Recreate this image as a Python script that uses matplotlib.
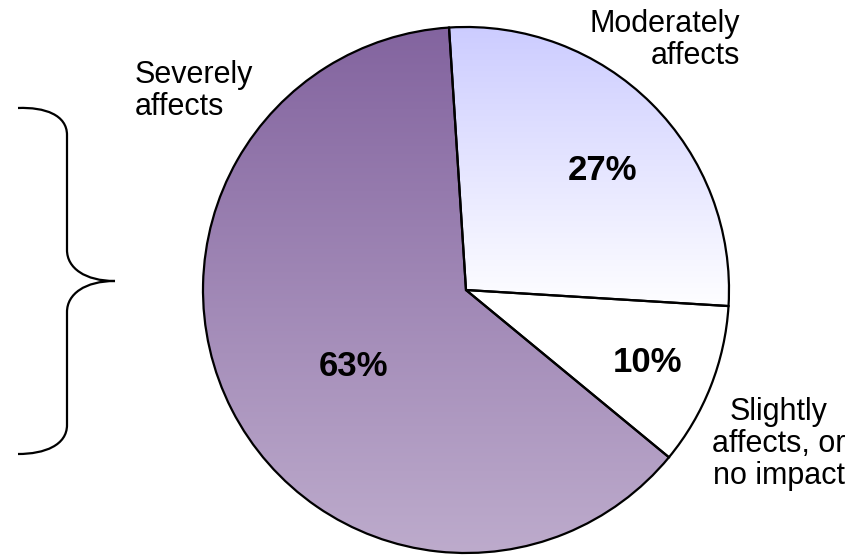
import matplotlib
matplotlib.use("Agg")
import matplotlib.pyplot as plt
import numpy as np
from matplotlib.path import Path
from matplotlib.patches import PathPatch
from matplotlib.colors import LinearSegmentedColormap

plt.rcParams['font.family'] = ['Liberation Sans', 'DejaVu Sans']

# data (clockwise from the top)
categories = ["Moderately\naffects", "Slightly\naffects, or\nno impact", "Severely\naffects"]
shares = [27, 10, 63]
pct_labels = ["27%", "10%", "63%"]

W, H = 863, 555
fig = plt.figure(figsize=(W / 100, H / 100), dpi=100)

# pie sits in a square box of 526 px
cx, cy, r = 466, 290, 263
pax = fig.add_axes([(cx - r) / W, 1 - (cy + r) / H, 2 * r / W, 2 * r / H])
wedges, _ = pax.pie(shares, startangle=93.7, counterclock=False, radius=1,
                    wedgeprops=dict(facecolor="none", edgecolor="black", linewidth=1.6),
                    frame=False)

# vertical gradients clipped to each wedge
grad = np.linspace(0, 1, 256).reshape(-1, 1)
fills = [
    (["#FFFFFF", "#CCCCFF"], (-1, 1, -0.08, 1.0)),   # moderately: lavender -> white
    (["#FFFFFF", "#FFFFFF"], (-1, 1, -1, 1)),         # slightly: white
    (["#BDABCC", "#83649F"], (-1, 1, -1, 1)),         # severely: light -> dark purple
]
for w, (cols, ext) in zip(wedges, fills):
    cmap = LinearSegmentedColormap.from_list("g", cols)
    im = pax.imshow(grad, cmap=cmap, extent=ext, origin="lower", aspect="auto", zorder=0)
    im.set_clip_path(w)
    w.set_zorder(2)
pax.set_xlim(-1, 1)
pax.set_ylim(-1, 1)
pax.axis("off")

# overlay in pixel coordinates for labels and the brace
ov = fig.add_axes([0, 0, 1, 1])
ov.set_xlim(0, W)
ov.set_ylim(H, 0)
ov.axis("off")

pct_pos = [(602, 171), (647, 363), (353, 366)]
for txt, (x, y) in zip(pct_labels, pct_pos):
    ov.text(x, y, txt, fontsize=25, fontweight="bold", ha="center", va="center")

cat_pos = [(740, 40, "right"), (779, 444, "center"), (135, 91, "left")]
for txt, (x, y, ha) in zip(categories, cat_pos):
    ov.text(x, y, txt, fontsize=22, ha=ha, va="center", multialignment=ha, linespacing=1.08)

# curly brace on the left
verts = [
    (18, 108), (45, 107), (67, 115), (67, 135),
    (67, 250),
    (67, 268), (85, 281), (115, 281),
    (85, 281), (67, 294), (67, 312),
    (67, 425),
    (67, 445), (45, 454), (18, 454),
]
codes = [Path.MOVETO, Path.CURVE4, Path.CURVE4, Path.CURVE4,
         Path.LINETO,
         Path.CURVE4, Path.CURVE4, Path.CURVE4,
         Path.CURVE4, Path.CURVE4, Path.CURVE4,
         Path.LINETO,
         Path.CURVE4, Path.CURVE4, Path.CURVE4]
ov.add_patch(PathPatch(Path(verts, codes), facecolor="none", edgecolor="black", linewidth=1.6))

fig.savefig("out.png", dpi=100)
